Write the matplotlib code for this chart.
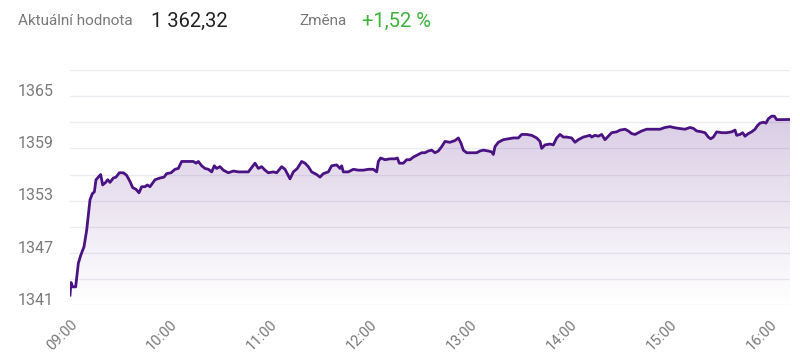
import numpy as np
import matplotlib.pyplot as plt
from matplotlib.colors import LinearSegmentedColormap

plt.rcParams['font.family'] = ['Roboto', 'DejaVu Sans']

# minutes after 09:00 and index value
minutes = [0, 0.6, 1.6, 3.4, 5, 6.4, 8.4, 10, 12, 13.4, 14.6, 15.6, 17, 18.4, 19.6,
           21.4, 22.6, 24, 26, 27.6, 29.6, 32, 34, 36, 37.6, 39.6, 41.4, 43, 45,
           46.4, 48, 51, 54, 56.4, 58, 60.6, 63, 65, 67, 70, 74, 75.6, 77, 79, 81,
           83, 85, 86.6, 88, 90, 92, 95, 98, 101, 104, 107, 109, 111, 113, 115,
           117, 119, 122, 124, 127, 129, 132, 134, 136.4, 139, 141, 143, 145, 146,
           148, 150, 152, 155, 157, 160, 162, 163, 164, 167, 170, 173, 176, 179,
           182, 184, 185, 186.4, 189, 192, 195, 196.4, 197.6, 200, 202, 204, 206,
           209, 211, 213, 215, 217, 219, 221, 223, 225, 228, 231, 233, 234.6, 236,
           238, 241, 244, 246, 248, 251, 253, 254, 255, 257, 260, 263, 266, 269,
           271, 274, 277, 280, 282, 283, 285, 288, 290, 292, 294, 296, 298, 301,
           303, 305, 308, 310, 312, 313, 315, 317, 319, 321, 323, 325, 328, 330,
           333, 335, 337, 339, 341, 343, 346, 350, 354, 357, 360, 362, 365, 369,
           372, 374, 376, 379, 381, 383, 384.4, 386, 388, 391, 394, 397, 399, 400,
           402, 403.6, 405, 407, 409, 411, 412.4, 414, 416, 417.6, 419, 421, 422.6,
           424, 426, 432]
values = [1342.15, 1343.6, 1343.1, 1343.1, 1345.8, 1346.7, 1347.7, 1349.6, 1353.1,
          1353.8, 1354.0, 1355.4, 1355.7, 1356.0, 1354.8, 1355.1, 1355.4, 1355.1,
          1355.6, 1355.7, 1356.2, 1356.2, 1355.9, 1355.2, 1354.5, 1354.3, 1353.9,
          1354.6, 1354.6, 1354.8, 1354.6, 1355.4, 1355.6, 1355.7, 1356.1, 1356.2,
          1356.6, 1356.7, 1357.5, 1357.5, 1357.5, 1357.3, 1357.5, 1357.0, 1356.7,
          1356.6, 1356.3, 1357.0, 1356.7, 1356.9, 1356.5, 1356.2, 1356.4, 1356.3,
          1356.3, 1356.3, 1356.8, 1357.3, 1356.7, 1356.9, 1356.5, 1356.2, 1356.3,
          1356.2, 1356.9, 1356.6, 1355.5, 1356.3, 1356.7, 1357.5, 1357.3, 1356.9,
          1356.3, 1356.2, 1356.0, 1355.7, 1356.1, 1356.3, 1357.0, 1357.1, 1356.7,
          1357.0, 1356.3, 1356.3, 1356.6, 1356.5, 1356.5, 1356.6, 1356.6, 1356.3,
          1357.5, 1357.9, 1357.7, 1357.8, 1357.8, 1357.9, 1357.3, 1357.3, 1357.7,
          1357.7, 1358.0, 1358.3, 1358.5, 1358.5, 1358.7, 1358.8, 1358.5, 1358.7,
          1359.2, 1359.8, 1359.7, 1359.9, 1360.2, 1359.6, 1358.8, 1358.5, 1358.5,
          1358.5, 1358.7, 1358.8, 1358.7, 1358.6, 1358.3, 1359.2, 1359.7, 1360.0,
          1360.1, 1360.2, 1360.2, 1360.6, 1360.6, 1360.5, 1360.2, 1359.8, 1359.0,
          1359.4, 1359.5, 1359.4, 1360.2, 1360.6, 1360.3, 1360.3, 1360.2, 1359.7,
          1360.0, 1360.3, 1360.4, 1360.5, 1360.3, 1360.5, 1360.4, 1360.6, 1360.0,
          1360.4, 1360.8, 1360.9, 1361.1, 1361.2, 1361.0, 1360.7, 1360.6, 1360.8,
          1361.0, 1361.2, 1361.2, 1361.2, 1361.4, 1361.5, 1361.4, 1361.3, 1361.2,
          1361.4, 1361.3, 1361.0, 1360.9, 1360.8, 1360.3, 1360.1, 1360.3, 1360.9,
          1360.8, 1360.8, 1360.9, 1361.1, 1360.5, 1360.6, 1360.8, 1360.4, 1360.7,
          1360.9, 1361.2, 1361.6, 1361.9, 1362.0, 1361.9, 1362.4, 1362.7, 1362.7,
          1362.3, 1362.3, 1362.32]

tick_minutes = [0, 60, 120, 180, 240, 300, 360, 420]
tick_labels = ['09:00', '10:00', '11:00', '12:00', '13:00', '14:00', '15:00', '16:00']
y_labels = [1341, 1347, 1353, 1359, 1365]
grid_levels = [1341, 1344, 1347, 1350, 1353, 1356, 1359, 1362, 1365, 1368]

current_value = '1 362,32'
change = '+1,52 %'

line_color = '#4a1282'
grey = '#7a7a7a'

fig = plt.figure(figsize=(8, 3.59), dpi=100)
ax = fig.add_axes([0.0875, 0.150, 0.9, 0.655])

ax.plot(minutes, values, color=line_color, lw=2.0, zorder=3, solid_joinstyle='round')

# gradient fill under the line
poly = ax.fill_between(minutes, values, grid_levels[0], color='none', lw=0)
cmap = LinearSegmentedColormap.from_list(
    'fade', [(0.47, 0.28, 0.62, 0.0), (0.47, 0.28, 0.62, 0.28)])
grad = np.linspace(0, 1, 256).reshape(-1, 1)
img = ax.imshow(grad, extent=[minutes[0], minutes[-1], grid_levels[0], 1363],
                origin='lower', aspect='auto', cmap=cmap, zorder=2)
img.set_clip_path(poly.get_paths()[0], transform=ax.transData)

ax.set_xlim(minutes[0], minutes[-1])
ax.set_ylim(grid_levels[0], grid_levels[-1])

ax.set_yticks(grid_levels)
ax.set_yticklabels([])
ax.grid(axis='y', color='#ebebf2', lw=1)
ax.set_axisbelow(True)
ax.tick_params(axis='y', length=0)

for v in y_labels:
    ax.text(-0.072, v - 0.3, str(v), transform=ax.get_yaxis_transform(),
            ha='left', va='bottom', fontsize=11.5, color=grey)

ax.set_xticks(tick_minutes)
ax.set_xticklabels(tick_labels, rotation=45, ha='right', rotation_mode='anchor',
                   fontsize=10.5, color=grey)
ax.tick_params(axis='x', length=0, pad=9)

for s in ax.spines.values():
    s.set_visible(False)

# header
fig.text(18 / 800, 1 - 21 / 359, 'Aktuální hodnota', fontsize=11, color=grey, va='center')
fig.text(151 / 800, 1 - 21 / 359, current_value, fontsize=14.5, color='#222222', va='center')
fig.text(299 / 800, 1 - 21 / 359, 'Změna', fontsize=11, color=grey, va='center')
fig.text(362 / 800, 1 - 21 / 359, change, fontsize=14.5, color='#3db33d', va='center')

fig.savefig('out.png', dpi=100)
